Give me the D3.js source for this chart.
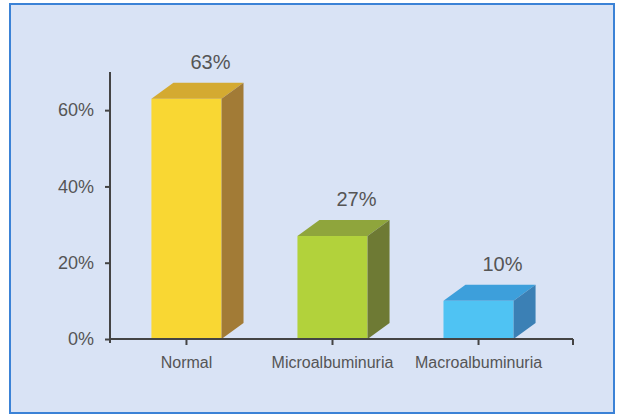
<!DOCTYPE html>
<html lang="en">
<head>
    <meta charset="UTF-8">
    <title>Albuminuria</title>
    <script src="https://cdnjs.cloudflare.com/ajax/libs/d3/7.8.5/d3.min.js"></script>
    <style>
        body { margin: 0; background: #fff; }
        text { font-family: "Liberation Sans", Arial, sans-serif; fill: #555; }
        .axis path, .axis line { stroke: #444; stroke-width: 2; }
    </style>
</head>
<body>
    <svg width=619 height=416></svg>
    <script>
        var categories = ['Normal', 'Microalbuminuria', 'Macroalbuminuria'],
            values = [63, 27, 10],
            yTicks = [0, 20, 40, 60],
            frontColors = ['#f9d733', '#b2d23b', '#4fc3f3'],
            topColors = ['#d4aa31', '#8fa53c', '#3d9fdb'],
            sideColors = ['#a27b36', '#6e7a34', '#3b80b5'];

        var svg = d3.select('svg'),
            depthX = 22,
            depthY = 16,
            axisLeftX = 110,
            axisRightX = 573,
            xScale = d3.scaleBand().domain(categories).range([112, 553]).paddingInner(0.52).paddingOuter(0.27),
            yScale = d3.scaleLinear().domain([0, 70]).range([339, 72]),
            yAxis = d3.axisLeft().scale(yScale).tickValues(yTicks).tickSize(5).tickSizeOuter(0).tickPadding(11)
                        .tickFormat(function(d) { return d + '%'; });

        // frame
        svg.append('rect')
            .attr('x', 10).attr('y', 4)
            .attr('width', 604).attr('height', 409)
            .attr('fill', '#d9e3f5')
            .attr('stroke', '#3b82d6')
            .attr('stroke-width', 2);

        // 3d bars
        var bars = svg.selectAll('.bar')
            .data(values)
            .enter().append('g')
            .classed('bar', true);

        var y0 = yScale(0), w = xScale.bandwidth();

        bars.append('rect')
            .attr('x', function(d, i) { return xScale(categories[i]); })
            .attr('y', function(d) { return yScale(d); })
            .attr('width', w)
            .attr('height', function(d) { return y0 - yScale(d); })
            .attr('fill', function(d, i) { return frontColors[i]; });

        bars.append('path')
            .attr('d', function(d, i) {
                var x = xScale(categories[i]), y = yScale(d);
                return 'M' + [x, y] + 'L' + [x + depthX, y - depthY] + 'L' + [x + w + depthX, y - depthY] + 'L' + [x + w, y] + 'Z';
            })
            .attr('fill', function(d, i) { return topColors[i]; });

        bars.append('path')
            .attr('d', function(d, i) {
                var x = xScale(categories[i]) + w, y = yScale(d);
                return 'M' + [x, y] + 'L' + [x + depthX, y - depthY] + 'L' + [x + depthX, y0 - depthY] + 'L' + [x, y0] + 'Z';
            })
            .attr('fill', function(d, i) { return sideColors[i]; });

        bars.append('text')
            .attr('x', function(d, i) { return xScale(categories[i]) + w / 2 + depthX + 2; })
            .attr('y', function(d) { return yScale(d) - depthY - 14; })
            .attr('text-anchor', 'middle')
            .style('font-size', '20px')
            .text(function(d) { return d + '%'; });

        // y axis
        var yG = svg.append('g')
            .classed('axis', true)
            .attr('transform', 'translate(' + [axisLeftX, 0] + ')')
            .call(yAxis);
        yG.selectAll('text').style('font-size', '18px').attr('fill', '#555');
        yG.select('.domain').attr('d', 'M0,' + yScale(70) + 'V' + (y0 + 4));

        // x axis
        var xG = svg.append('g').classed('axis', true);
        xG.append('line')
            .attr('x1', axisLeftX).attr('x2', axisRightX)
            .attr('y1', y0).attr('y2', y0);
        xG.append('line')
            .attr('x1', axisRightX).attr('x2', axisRightX)
            .attr('y1', y0).attr('y2', y0 + 6);
        xG.selectAll('.tick')
            .data(categories)
            .enter().append('line')
            .classed('tick', true)
            .attr('x1', function(d) { return xScale(d) + w / 2; })
            .attr('x2', function(d) { return xScale(d) + w / 2; })
            .attr('y1', y0).attr('y2', y0 + 6);
        xG.selectAll('.cat')
            .data(categories)
            .enter().append('text')
            .classed('cat', true)
            .attr('x', function(d) { return xScale(d) + w / 2; })
            .attr('y', 368)
            .attr('text-anchor', 'middle')
            .style('font-size', '16px')
            .text(function(d) { return d; });
    </script>
</body>
</html>
